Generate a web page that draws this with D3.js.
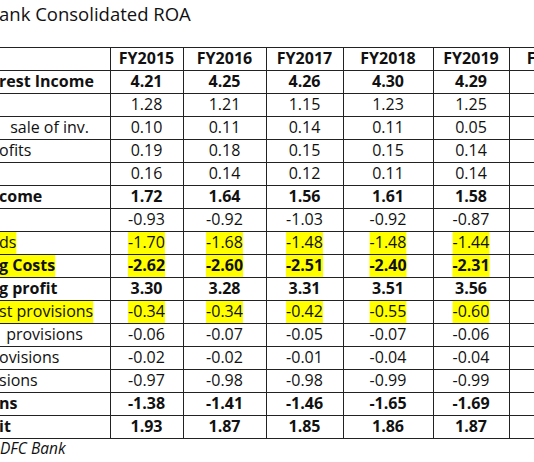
<!DOCTYPE html>
<html>
<head>
<meta charset="utf-8">
<script src="https://cdn.jsdelivr.net/npm/d3@7"></script>
<style>
  body { margin: 0; background: #fff; }
  svg text { font-family: "Open Sans", "Noto Sans", sans-serif; fill: #111; white-space: pre; }
</style>
</head>
<body>
<svg width="534" height="462"></svg>
<script>
// table values (ROA, % of assets)
var years = ["FY2015", "FY2016", "FY2017", "FY2018", "FY2019", "FY2020"];
var labels = ["rest Income", "", " sale of inv.", "ofits", "", "come", "", "ds", "g Costs",
    "g profit", "st provisions", " provisions", "ovisions", "sions", "ns", "it"];
var fy2015 = [4.21, 1.28, 0.10, 0.19, 0.16, 1.72, -0.93, -1.70, -2.62, 3.30, -0.34, -0.06, -0.02, -0.97, -1.38, 1.93];
var fy2016 = [4.25, 1.21, 0.11, 0.18, 0.14, 1.64, -0.92, -1.68, -2.60, 3.28, -0.34, -0.07, -0.02, -0.98, -1.41, 1.87];
var fy2017 = [4.26, 1.15, 0.14, 0.15, 0.12, 1.56, -1.03, -1.48, -2.51, 3.31, -0.42, -0.05, -0.01, -0.98, -1.46, 1.85];
var fy2018 = [4.30, 1.23, 0.11, 0.15, 0.11, 1.61, -0.92, -1.48, -2.40, 3.51, -0.55, -0.07, -0.04, -0.99, -1.65, 1.86];
var fy2019 = [4.29, 1.25, 0.05, 0.14, 0.14, 1.58, -0.87, -1.44, -2.31, 3.56, -0.60, -0.06, -0.04, -0.99, -1.69, 1.87];
var boldRows = [0, 5, 8, 9, 14, 15];
var yellowRows = [7, 8, 10];

var series = [fy2015, fy2016, fy2017, fy2018, fy2019];
var fmt = d3.formatLocale({decimal: ".", thousands: ",", grouping: [3], currency: ["", ""], minus: "-"}).format(".2f");

var svg = d3.select("svg");
var colEdges = [110, 183, 266, 343, 433, 509, 600]; // uneven excel column widths
var labelIndent = {2: 7, 11: 3};
var fs = "16px";

var y = d3.scaleBand()
    .domain(d3.range(labels.length + 1))   // 0 = header row
    .range([47, 47 + 23 * (labels.length + 1)]);

var cx = function(i) { return (colEdges[i] + colEdges[i + 1]) / 2; };

svg.append("text")
    .attr("x", -1).attr("y", 21)
    .style("font-size", "18.5px")
    .text("ank Consolidated ROA");

var hl = svg.append("g"), grid = svg.append("g"), cells = svg.append("g");

// header
cells.selectAll(".hd")
    .data(years)
    .enter().append("text")
    .attr("x", function(d, i) { return cx(i); })
    .attr("y", y(0) + y.bandwidth() / 2)
    .attr("dy", ".35em")
    .attr("text-anchor", "middle")
    .style("font-size", fs).style("font-weight", "bold")
    .text(function(d) { return d; });

// row labels
cells.selectAll(".lab")
    .data(labels)
    .enter().append("text")
    .attr("x", function(d, i) { return -1 + (labelIndent[i] || 0); })
    .attr("y", function(d, i) { return y(i + 1) + y.bandwidth() / 2; })
    .attr("dy", ".35em")
    .style("font-size", fs)
    .style("font-weight", function(d, i) { return boldRows.indexOf(i) >= 0 ? "bold" : null; })
    .text(function(d) { return d; });

// values
series.forEach(function(vals, c) {
    cells.selectAll(".v" + c)
        .data(vals)
        .enter().append("text")
        .attr("class", "v" + c)
        .attr("x", cx(c))
        .attr("y", function(d, i) { return y(i + 1) + y.bandwidth() / 2; })
        .attr("dy", ".35em")
        .attr("text-anchor", "middle")
        .style("font-size", fs)
        .style("font-weight", function(d, i) { return boldRows.indexOf(i) >= 0 ? "bold" : null; })
        .text(function(d) { return fmt(d); });
});

// yellow highlight behind text
cells.selectAll("text").each(function() {
    var t = d3.select(this);
    var i = Math.round((+t.attr("y") - 47) / 23 - 0.5) - 1;
    if (yellowRows.indexOf(i) < 0 || t.text() === "") return;
    var b = this.getBBox();
    var x0 = b.x < 5 ? 0 : b.x;
    hl.append("rect")
        .attr("x", x0).attr("width", b.x + b.width - x0)
        .attr("y", y(i + 1) + 1).attr("height", y.bandwidth() - 1)
        .attr("fill", "#ffff00");
});

// grid
grid.selectAll(".h")
    .data(d3.range(labels.length + 2))
    .enter().append("line")
    .attr("x1", 0).attr("x2", 534)
    .attr("y1", function(d) { return 47 + 23 * d + 0.5; })
    .attr("y2", function(d) { return 47 + 23 * d + 0.5; })
    .attr("stroke", "#222").attr("stroke-width", 1);

grid.selectAll(".v")
    .data(colEdges.slice(0, 6))
    .enter().append("line")
    .attr("x1", function(d) { return d + 0.5; }).attr("x2", function(d) { return d + 0.5; })
    .attr("y1", 47).attr("y2", 47 + 23 * (labels.length + 1) + 1)
    .attr("stroke", "#222").attr("stroke-width", 1);

svg.append("text")
    .attr("x", 0).attr("y", 454)
    .style("font-size", "15.5px").style("font-style", "italic")
    .text("DFC Bank");
</script>
</body>
</html>
